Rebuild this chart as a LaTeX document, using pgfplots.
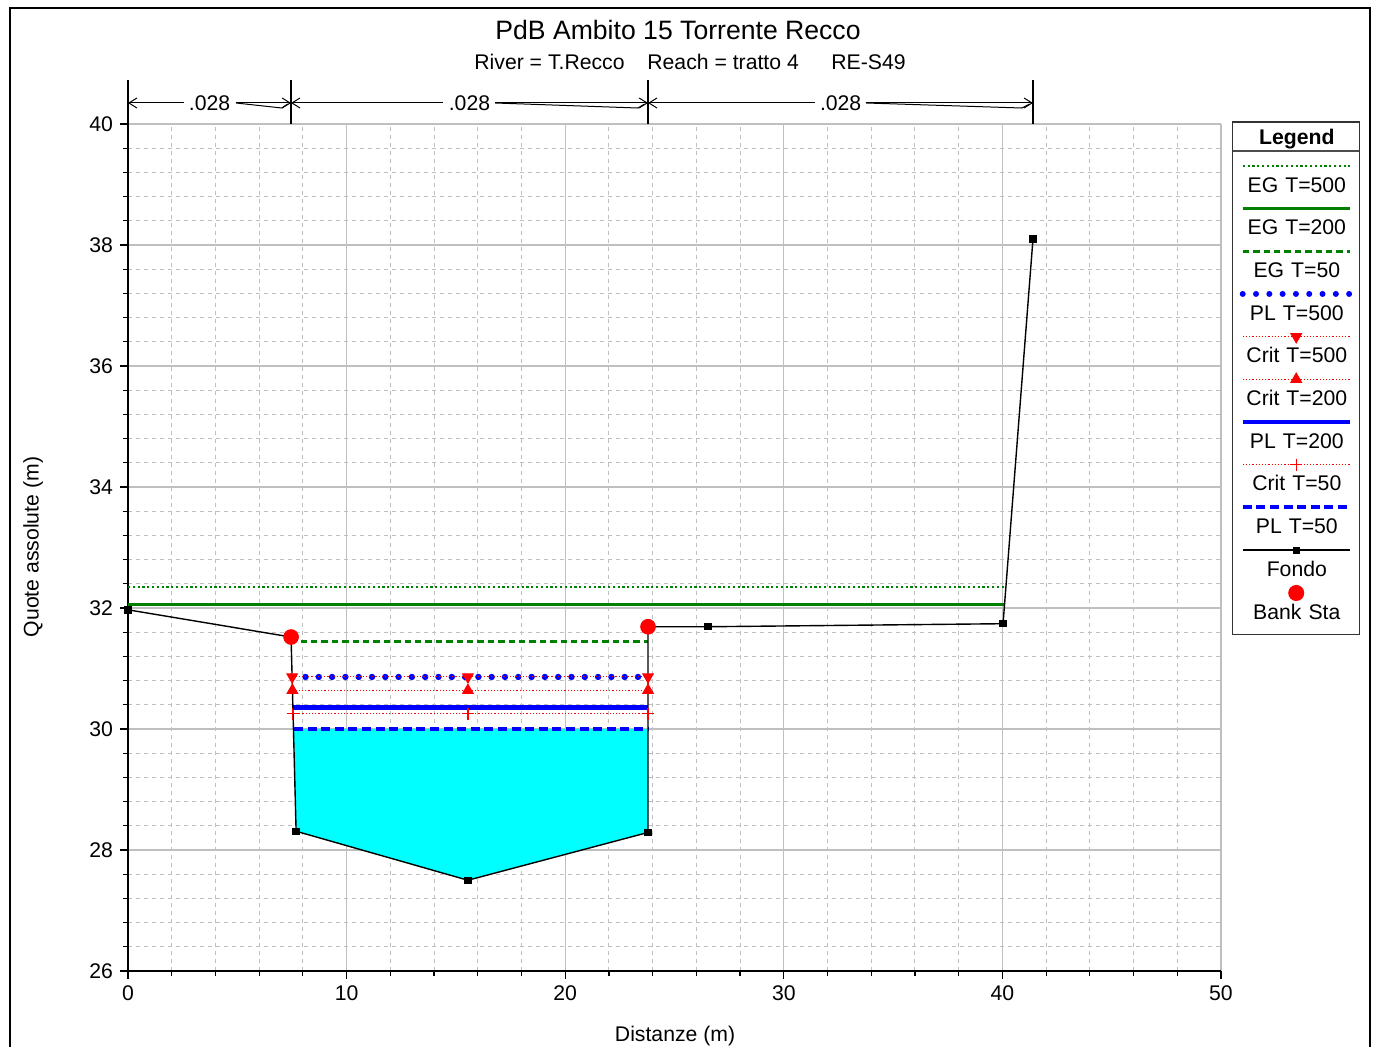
\documentclass[border=0pt]{standalone}
\usepackage{fontspec}
\setmainfont{Liberation Sans}
\usepackage{pgfplots}
\pgfplotsset{compat=1.18}
\usetikzlibrary{arrows.meta}
\definecolor{egreen}{RGB}{0,128,0}
\definecolor{pblue}{RGB}{0,0,255}
\definecolor{cred}{RGB}{255,0,0}
\definecolor{wcyan}{RGB}{0,255,255}
\pgfplotsset{
  legsample/.style={legend image code/.code={\path (0pt,0pt); \draw[#1, overlay] (1.25pt,10.6pt) -- (54.75pt,10.6pt);}},
  legsamplemark/.style 2 args={legend image code/.code={\path (0pt,0pt); \draw[#1, overlay] (1.25pt,10.6pt) -- (54.75pt,10.6pt); \draw[#2, overlay] plot coordinates {(28pt,10.6pt)};}},
}
\begin{document}
\begin{tikzpicture}[font=\fontsize{10.6}{12.7}\selectfont]
\useasboundingbox (-64pt,-38pt) rectangle (624.5pt,485.5pt);
\draw[line width=1pt] (-59pt,481.5pt) rectangle (621pt,-60pt);
\begin{axis}[
  at={(0pt,0pt)}, anchor=south west,
  scale only axis, width=546.5pt, height=423.5pt,
  xmin=0, xmax=50, ymin=26, ymax=40,
  xtick={0,10,...,50}, ytick={26,28,...,40},
  minor x tick num=4, minor y tick num=4,
  grid=both,
  major grid style={black!25, line width=0.6pt},
  minor grid style={black!25, dash pattern=on 2pt off 2pt, line width=0.5pt},
  axis x line*=bottom, axis y line*=left,
  axis line style={black, line width=0.8pt, -},
  tick align=outside,
  major tick length=4pt, minor tick length=2.5pt,
  tick style={black, line width=0.6pt},
  /pgf/number format/assume math mode=true,
  clip=false,
  xlabel={Distanze (m)}, ylabel={Quote assolute (m)},
  xlabel style={at={(axis description cs:0.5005,-0.0767)}, anchor=center},
  ylabel style={at={(axis description cs:-0.0869,0.5006)}, anchor=center, rotate=0},
  legend style={at={(1.0101,1.0030)}, anchor=north west,
    draw=black!80, line width=0.6pt,
    inner sep=3.5pt, column sep=0pt, row sep=11.35pt,
    cells={anchor=center},
    nodes={inner sep=0pt, text width=56pt, align=center, text height=7.5pt, text depth=2.5pt},
    font=\fontsize{10.6}{12.7}\selectfont},
]
% water area T=50
\addplot[fill=wcyan, draw=none, forget plot] coordinates {(7.59,30.0) (7.69,28.31) (15.55,27.50) (23.79,28.29) (23.79,30.0)} -- cycle;
% EG T=500
\addplot[egreen, line width=1.2pt, dash pattern=on 1.1pt off 1.3pt, forget plot] coordinates {(0,32.35) (40.16,32.35)};
% EG T=200
\addplot[egreen, line width=1.5pt, forget plot] coordinates {(0,32.05) (40.10,32.05)};
% EG T=50
\addplot[egreen, line width=1.5pt, dash pattern=on 3.2pt off 2pt, forget plot] coordinates {(7.9,31.45) (23.79,31.45)};
% PL T=500
\addplot[pblue, line width=3.2pt, line cap=round, dash pattern=on 0pt off 6.65pt, forget plot] coordinates {(8.12,30.86) (23.60,30.86)};
% Crit T=500
\addplot[cred, line width=0.5pt, dash pattern=on 0.6pt off 1pt, mark=triangle*, mark size=3pt, mark options={solid, rotate=180}, forget plot] coordinates {(7.51,30.86) (15.55,30.86) (23.79,30.86)};
% Crit T=200
\addplot[cred, line width=0.5pt, dash pattern=on 0.6pt off 1pt, mark=triangle*, mark size=3pt, mark options={solid}, forget plot] coordinates {(7.52,30.64) (15.55,30.64) (23.79,30.64)};
% PL T=200
\addplot[pblue, line width=2.4pt, forget plot] coordinates {(7.53,30.35) (23.79,30.35)};
% Crit T=50
\addplot[cred, line width=0.5pt, dash pattern=on 0.6pt off 1pt, mark=+, mark size=3pt, mark options={solid, line width=0.6pt}, forget plot] coordinates {(7.54,30.25) (15.55,30.25) (23.79,30.25)};
% PL T=50
\addplot[pblue, line width=2pt, dash pattern=on 4.5pt off 2.3pt, forget plot] coordinates {(7.59,30.0) (23.79,30.0)};
% Fondo
\addplot[black, line width=0.7pt, mark=square*, mark size=1.5pt, forget plot] coordinates {(0,31.97) (7.46,31.52) (7.69,28.31) (15.55,27.50) (23.79,28.29) (23.79,31.69) (26.53,31.69) (40.03,31.74) (41.40,38.10)};
% Bank Sta
\addplot[only marks, cred, mark=*, mark size=3.7pt, forget plot] coordinates {(7.46,31.52) (23.79,31.69)};

% Manning n annotations
\draw[black, line width=0.7pt] (axis cs:0,40) -- (axis cs:0,40.727);
\draw[black, line width=0.7pt] (axis cs:7.46,40) -- (axis cs:7.46,40.727);
\draw[black, line width=0.7pt] (axis cs:23.79,40) -- (axis cs:23.79,40.727);
\draw[black, line width=0.7pt] (axis cs:41.40,40) -- (axis cs:41.40,40.727);
\begin{scope}[line width=0.5pt, >={Straight Barb[length=4pt,width=5pt]}]
\draw[->] (axis cs:2.56,40.347) -- (axis cs:0,40.347);
\draw[->] (axis cs:4.94,40.347) -- (axis cs:7.46,40.347);
\draw (axis cs:4.94,40.347) -- (axis cs:7.04,40.264) -- (axis cs:7.30,40.33);
\node at (axis cs:3.73,40.347) {.028};
\draw[->] (axis cs:14.41,40.347) -- (axis cs:7.46,40.347);
\draw[->] (axis cs:16.79,40.347) -- (axis cs:23.79,40.347);
\draw (axis cs:16.79,40.347) -- (axis cs:23.33,40.264) -- (axis cs:23.63,40.33);
\node at (axis cs:15.62,40.347) {.028};
\draw[->] (axis cs:31.43,40.347) -- (axis cs:23.79,40.347);
\draw[->] (axis cs:33.76,40.347) -- (axis cs:41.40,40.347);
\draw (axis cs:33.76,40.347) -- (axis cs:40.90,40.264) -- (axis cs:41.24,40.33);
\node at (axis cs:32.6,40.347) {.028};
\end{scope}

% legend
\addlegendimage{legend image code/.code={\path (0pt,0pt); \draw[black!70, line width=1pt, overlay] (-3.5pt,-4.9pt) -- (59.5pt,-4.9pt);}}
\addlegendentry[text depth=5.15pt]{\textbf{Legend}}
\addlegendimage{legsample={egreen, line width=1.2pt, dash pattern=on 1.1pt off 1.3pt}}
\addlegendentry{EG T=500}
\addlegendimage{legsample={egreen, line width=1.5pt}}
\addlegendentry{EG T=200}
\addlegendimage{legsample={egreen, line width=1.5pt, dash pattern=on 3.2pt off 2pt}}
\addlegendentry{EG T=50}
\addlegendimage{legsample={pblue, line width=3pt, line cap=round, dash pattern=on 0pt off 6.65pt}}
\addlegendentry{PL T=500}
\addlegendimage{legsamplemark={cred, line width=0.5pt, dash pattern=on 0.6pt off 1pt}{cred, mark=triangle*, mark size=3pt, mark options={solid, rotate=180}}}
\addlegendentry{Crit T=500}
\addlegendimage{legsamplemark={cred, line width=0.5pt, dash pattern=on 0.6pt off 1pt}{cred, mark=triangle*, mark size=3pt, mark options={solid}}}
\addlegendentry{Crit T=200}
\addlegendimage{legsample={pblue, line width=2.4pt}}
\addlegendentry{PL T=200}
\addlegendimage{legsamplemark={cred, line width=0.5pt, dash pattern=on 0.6pt off 1pt}{cred, mark=+, mark size=3pt, mark options={solid, line width=0.6pt}}}
\addlegendentry{Crit T=50}
\addlegendimage{legsample={pblue, line width=2pt, dash pattern=on 4.5pt off 2.3pt}}
\addlegendentry{PL T=50}
\addlegendimage{legsamplemark={black, line width=0.7pt}{black, mark=square*, mark size=1.5pt}}
\addlegendentry{Fondo}
\addlegendimage{legend image code/.code={\path (0pt,0pt); \draw[cred, overlay] plot[mark=*, mark size=3.7pt] coordinates {(28pt,11.4pt)};}}
\addlegendentry[text depth=4.25pt]{Bank Sta}
\end{axis}
\node[anchor=base, font=\fontsize{13.3}{16}\selectfont] at (275pt,465.5pt) {PdB Ambito 15 Torrente Recco};
\node[anchor=base west, inner sep=0pt] at (173pt,450.5pt) {River = T.Recco};
\node[anchor=base west, inner sep=0pt] at (259.5pt,450.5pt) {Reach = tratto 4};
\node[anchor=base west, inner sep=0pt] at (351.5pt,450.5pt) {RE-S49};
\end{tikzpicture}
\end{document}
